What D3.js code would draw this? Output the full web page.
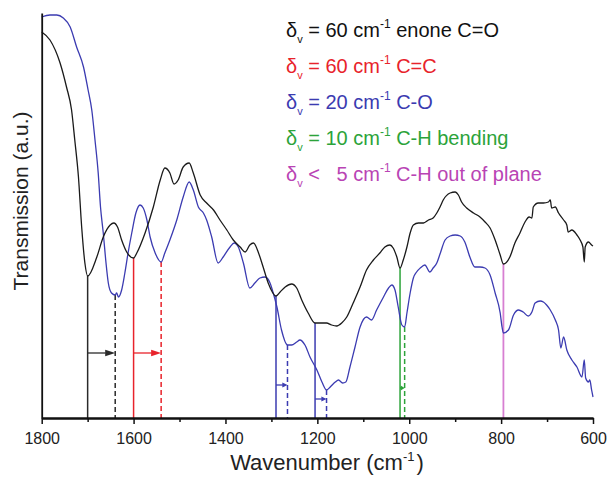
<!DOCTYPE html>
<html>
<head>
<meta charset="utf-8">
<script src="https://cdn.jsdelivr.net/npm/d3@7"></script>
<style>
  html, body { margin: 0; padding: 0; background: #fff; }
  svg { display: block; font-family: "Liberation Sans", Arial, sans-serif; }
</style>
</head>
<body>
<svg id="chart" width="607" height="483"></svg>
<script>
// ---- data (wavenumber in cm^-1, transmission in arbitrary units) ----
const blackWn = [1800,1782,1760,1746,1735,1728,1720,1713,1706,1700,1680,1666,1651,1643,1635,1626,1615,1600,1593,1575,1557,1542,1532,1521,1512,1503,1492,1479,1470,1455,1441,1426,1412,1397,1383,1368,1357,1347,1339,1328,1318,1307,1290,1281,1270,1256,1245,1234,1220,1205,1194,1180,1169,1158,1147,1136,1122,1107,1093,1078,1064,1053,1042,1035,1027,1020,1013,1005,998,991,980,969,958,948,940,933,926,911,900,893,886,875,860,846,835,824,813,802,795,781,770,759,748,739,733,730,719,708,697,693,690,682,675,664,657,654,646,635,628,622,619,617,610,603,600];
const blackT = [386,378,355,331,308,278,241,191,155,142,161,181,193,195,191,178,166,160,165,185,211,238,250,245,234,238,251,255,245,223,215,208,198,188,178,171,166,173,175,165,151,135,122,126,131,134,130,118,105,95,95,95,93,92,95,101,115,131,148,158,165,171,173,170,161,150,158,171,185,193,195,195,198,200,205,211,218,225,226,223,216,210,205,201,196,190,178,163,154,161,175,185,196,201,200,211,215,215,216,218,210,211,205,198,193,186,188,183,178,171,156,171,176,173,172];

const blueWn = [1800,1782,1767,1753,1738,1724,1709,1699,1691,1684,1677,1672,1666,1660,1655,1648,1640,1637,1633,1626,1619,1612,1604,1595,1586,1579,1571,1564,1553,1540,1532,1521,1506,1492,1479,1470,1459,1448,1441,1430,1416,1405,1390,1381,1372,1361,1347,1336,1325,1314,1303,1296,1288,1278,1265,1256,1245,1238,1227,1216,1201,1190,1180,1172,1161,1154,1145,1138,1129,1118,1107,1093,1082,1071,1056,1045,1038,1031,1024,1016,1010,1005,998,991,984,976,966,955,948,940,933,922,911,900,889,879,868,857,846,835,824,813,802,798,795,784,773,762,752,741,733,726,715,708,701,693,682,675,670,664,657,646,635,624,619,616,610,607,603,600];
const blueT = [401,403,403,400,391,371,351,328,308,278,245,211,185,155,135,125,123,125,121,128,145,165,185,205,213,210,198,181,165,156,165,178,198,221,236,228,211,205,198,181,155,161,171,175,171,155,130,135,140,141,135,125,111,88,73,73,76,78,73,61,48,36,28,31,36,38,35,36,51,71,91,101,98,108,121,130,133,128,111,93,91,105,125,140,146,150,153,146,150,155,164,178,182,183,182,176,161,151,151,150,143,125,105,91,85,88,103,108,106,102,106,115,117,116,113,108,98,88,70,81,68,58,51,41,58,40,36,38,28,21];

// band shifts: solid line at the first spectrum's band, dashed at the second
const shiftFrom  = [1700, 1600, 1290, 1205, 1020];
const shiftTo    = [1640, 1540, 1265, 1180, 1010];
const shiftColor = ["#2a2a2a", "#e8232b", "#3b3bb1", "#3b3bb1", "#2ca33a"];
const arrowLevel = [65, 65, 33, 19, 30];
const fixedBand = [795];
const fixedColor = "#d77fd2";

const majorTicks = [1800, 1600, 1400, 1200, 1000, 800, 600];
const minorTicks = [1700, 1500, 1300, 1100, 900, 700];

const legendPre  = ["= 60 cm", "= 60 cm", "= 20 cm", "= 10 cm", "<   5 cm"];
const legendPost = [" enone C=O", " C=C", " C-O", " C-H bending", " C-H out of plane"];
const legendColor = ["#111111", "#e8232b", "#3b3bb1", "#2ca33a", "#b944b4"];

// ---- chart ----
const svg = d3.select("#chart");
const x = d3.scaleLinear().domain([1800, 600]).range([41.7, 593]);
const y = d3.scaleLinear().domain([0, 405]).range([418, 13]);

function interp(wns, ts, w) {
  for (let i = 0; i < wns.length - 1; i++) {
    if (w <= wns[i] && w >= wns[i + 1]) {
      const t = (wns[i] - w) / (wns[i] - wns[i + 1] || 1);
      return ts[i] + t * (ts[i + 1] - ts[i]);
    }
  }
  return ts[ts.length - 1];
}

const line = d3.line().x(d => x(d[0])).y(d => y(d[1])).curve(d3.curveMonotoneX);
const blackData = blackWn.map((w, i) => [w, blackT[i]]);
const blueData = blueWn.map((w, i) => [w, blueT[i]]);

// vertical markers
const g = svg.append("g");
shiftFrom.forEach((w, i) => {
  const c = shiftColor[i];
  g.append("line").attr("x1", x(w)).attr("x2", x(w))
    .attr("y1", y(interp(blackWn, blackT, w))).attr("y2", y(0))
    .attr("stroke", c).attr("stroke-width", 1.5);
  const w2 = shiftTo[i];
  g.append("line").attr("x1", x(w2)).attr("x2", x(w2))
    .attr("y1", y(interp(blueWn, blueT, w2))).attr("y2", y(0))
    .attr("stroke", c).attr("stroke-width", 1.5).attr("stroke-dasharray", "5,3");
  const x0 = x(w), x1 = x(w2), ay = y(arrowLevel[i]);
  const span = x1 - x0;
  const head = Math.min(10, Math.max(4, span * 0.45));
  const hh = head > 6 ? 3.2 : 2.5;
  g.append("line").attr("x1", x0).attr("x2", x1 - head + 0.5).attr("y1", ay).attr("y2", ay)
    .attr("stroke", c).attr("stroke-width", 1.3);
  g.append("path").attr("d", `M${x1},${ay}L${x1 - head},${ay - hh}L${x1 - head},${ay + hh}Z`)
    .attr("fill", c);
});
fixedBand.forEach(w => {
  g.append("line").attr("x1", x(w)).attr("x2", x(w))
    .attr("y1", y(interp(blackWn, blackT, w))).attr("y2", y(0))
    .attr("stroke", fixedColor).attr("stroke-width", 1.8);
});

// spectra
svg.append("path").datum(blueData).attr("d", line)
  .attr("fill", "none").attr("stroke", "#3b3bb1").attr("stroke-width", 1.3);
svg.append("path").datum(blackData).attr("d", line)
  .attr("fill", "none").attr("stroke", "#1a1a1a").attr("stroke-width", 1.3);

// axes
const xMajor = svg.append("g").attr("transform", `translate(0,${y(0)})`)
  .call(d3.axisBottom(x).tickValues(majorTicks).tickSize(6).tickSizeOuter(0).tickFormat(d3.format("d")));
const xMinor = svg.append("g").attr("transform", `translate(0,${y(0)})`)
  .call(d3.axisBottom(x).tickValues(minorTicks).tickSize(4).tickSizeOuter(0).tickFormat(""));
[xMajor, xMinor].forEach(a => {
  a.select(".domain").attr("stroke", "#111").attr("stroke-width", 1.8);
  a.selectAll(".tick line").attr("stroke", "#111").attr("stroke-width", 1.5);
});
xMajor.selectAll(".tick text").attr("y", 15).attr("font-size", 16)
  .attr("font-family", "Liberation Sans, Arial, sans-serif").attr("fill", "#222");

const yAxis = svg.append("g").attr("transform", `translate(${x(1800)},0)`)
  .call(d3.axisLeft(y).tickValues([]).tickSizeOuter(0));
yAxis.select(".domain").attr("stroke", "#111").attr("stroke-width", 1.8);

// axis titles
const xt = svg.append("text").attr("x", 327).attr("y", 470).attr("text-anchor", "middle")
  .attr("font-size", 22).attr("fill", "#222");
xt.append("tspan").text("Wavenumber (cm");
xt.append("tspan").attr("font-size", 13).attr("dy", -9).text("-1");
xt.append("tspan").attr("dy", 9).attr("dx", 2).text(")");

svg.append("text").attr("transform", "translate(28,201) rotate(-90)")
  .attr("text-anchor", "middle").attr("font-size", 21).attr("fill", "#222")
  .text("Transmission (a.u.)");

// legend
legendPre.forEach((pre, i) => {
  const t = svg.append("text").attr("x", 286).attr("y", 36.5 + i * 36)
    .attr("font-size", 20).attr("fill", legendColor[i]).style("white-space", "pre");
  t.append("tspan").text("\u03b4");
  t.append("tspan").attr("font-size", 11).attr("dy", 6).text("v");
  t.append("tspan").attr("dy", -6).text(" " + pre);
  t.append("tspan").attr("font-size", 12).attr("dy", -9).text("-1");
  t.append("tspan").attr("dy", 9).text(legendPost[i]);
});
</script>
</body>
</html>
